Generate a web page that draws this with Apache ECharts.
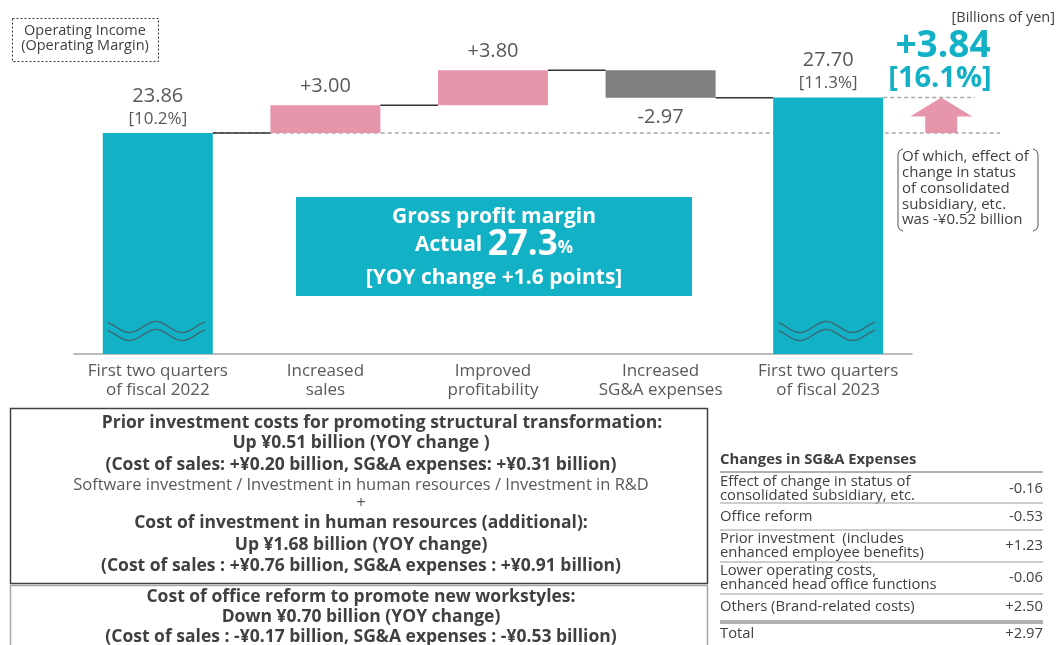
<!DOCTYPE html>
<html><head><meta charset="utf-8">
<script src="https://cdn.jsdelivr.net/npm/echarts@6/dist/echarts.min.js"></script>
<style>html,body{margin:0;padding:0;background:#fff}#c{width:1058px;height:645px}</style>
</head><body><div id="c"></div>
<script>
// ---------- data ----------
const categories = ['First two quarters\nof fiscal 2022', 'Increased\nsales', 'Improved\nprofitability', 'Increased\nSG&A expenses', 'First two quarters\nof fiscal 2023'];
const values = [23.86, 3.00, 3.80, -2.97, 27.70];
const kinds = ['total', 'delta', 'delta', 'delta', 'total'];
const margins = ['10.2%', null, null, null, '11.3%'];
const changeValue = '+3.84';
const changeRate = '16.1%';
const unitLabel = '[Billions of yen]';
const legendLines = ['Operating Income', '(Operating Margin)'];
const noteLines = ['Of which, effect of', 'change in status', 'of consolidated', 'subsidiary, etc.', 'was -¥0.52 billion'];
const gpTitle = 'Gross profit margin';
const gpActual = '27.3';
const gpChange = '[YOY change +1.6 points]';
const box1Lines = [
  'Prior investment costs for promoting structural transformation:',
  'Up ¥0.51 billion (YOY change )',
  '(Cost of sales: +¥0.20 billion, SG&A expenses: +¥0.31 billion)',
  'Software investment / Investment in human resources / Investment in R&D',
  '+',
  'Cost of investment in human resources (additional):',
  'Up ¥1.68 billion (YOY change)',
  '(Cost of sales : +¥0.76 billion, SG&A expenses : +¥0.91 billion)'
];
const box2Lines = [
  'Cost of office reform to promote new workstyles:',
  'Down ¥0.70 billion (YOY change)',
  '(Cost of sales : -¥0.17 billion, SG&A expenses : -¥0.53 billion)'
];
const sgaTitle = 'Changes in SG&A Expenses';
const sgaLabels = [
  'Effect of change in status of\nconsolidated subsidiary, etc.',
  'Office reform',
  'Prior investment  (includes\nenhanced employee benefits)',
  'Lower operating costs,\nenhanced head office functions',
  'Others (Brand-related costs)'
];
const sgaValues = ['-0.16', '-0.53', '+1.23', '-0.06', '+2.50'];
const sgaTotalLabel = 'Total';
const sgaTotal = '+2.97';

// ---------- styles ----------
const TEAL = '#13b1c6', PINK = '#e795ab', GREY = '#7f7f7f', TXT = '#595959', DARK = '#404040';
const FF = '"Open Sans", "Noto Sans", sans-serif';

// ---------- waterfall computation ----------
const bases = [], heights = [], levels = [];
let run = 0;
values.forEach((v, i) => {
  if (kinds[i] === 'total') { bases.push(0); heights.push(v); run = v; }
  else { bases.push(v > 0 ? run : run + v); heights.push(Math.abs(v)); run += v; }
  levels.push(run);
});
const fmt = (v, i) => kinds[i] === 'total' ? v.toFixed(2) : (v > 0 ? '+' : '') + v.toFixed(2);

const BAR_W = 110;
const barData = heights.map((h, i) => ({
  value: h,
  itemStyle: { color: kinds[i] === 'total' ? TEAL : (values[i] > 0 ? PINK : GREY) },
  label: {
    show: true,
    position: values[i] < 0 ? 'bottom' : 'top',
    distance: kinds[i] === 'total' ? 3 : (values[i] < 0 ? 8 : 7),
    formatter: kinds[i] === 'total' ? '{v|' + fmt(values[i], i) + '}\n{p|[' + margins[i] + ']}' : '{v|' + fmt(values[i], i) + '}'
  }
}));

const chart = echarts.init(document.getElementById('c'));

const graphics = [];
// legend box
graphics.push({ type: 'rect', shape: { x: 12.5, y: 18.5, width: 146, height: 43 }, style: { fill: 'none', stroke: '#333', lineWidth: 1, lineDash: [2, 2] } });
legendLines.forEach((t, k) => graphics.push({ type: 'text', style: { x: 85, y: 31 + k * 15, text: t, fill: DARK, font: '14.5px ' + FF, align: 'center', verticalAlign: 'middle' } }));
// unit
graphics.push({ type: 'text', style: { x: 1055, y: 18, text: unitLabel, fill: DARK, font: '14.5px ' + FF, align: 'right', verticalAlign: 'middle' } });
// change
graphics.push({ type: 'text', style: { x: 943, y: 46, text: changeValue, fill: TEAL, font: 'bold 37px ' + FF, align: 'center', verticalAlign: 'middle' } });
graphics.push({ type: 'text', style: { x: 940, y: 79, text: '[' + changeRate + ']', fill: TEAL, font: 'bold 29px ' + FF, align: 'center', verticalAlign: 'middle' } });
// brackets note
graphics.push({ type: 'polyline', shape: { points: [[903, 149], [899.5, 150.5], [898, 154], [898, 226], [899.5, 229.5], [903, 231]] }, style: { fill: 'none', stroke: '#555', lineWidth: 1 } });
graphics.push({ type: 'polyline', shape: { points: [[1033, 149], [1036.5, 150.5], [1038, 154], [1038, 226], [1036.5, 229.5], [1033, 231]] }, style: { fill: 'none', stroke: '#555', lineWidth: 1 } });
noteLines.forEach((t, k) => graphics.push({ type: 'text', style: { x: 902, y: 157 + k * 15.8, text: t, fill: DARK, font: '15px ' + FF, align: 'left', verticalAlign: 'middle' } }));
// gross profit box
graphics.push({ type: 'rect', shape: { x: 296, y: 197, width: 396, height: 99 }, style: { fill: TEAL } });
graphics.push({ type: 'text', style: { x: 494, y: 217, text: gpTitle, fill: '#fff', font: 'bold 21px ' + FF, align: 'center', verticalAlign: 'middle' } });
graphics.push({ type: 'text', style: { x: 494, y: 245, text: '{a|Actual }{b|' + gpActual + '}{c|%}', fill: '#fff', align: 'center', verticalAlign: 'middle',
  rich: { a: { fontSize: 21, fontWeight: 'bold', fontFamily: FF, color: '#fff' }, b: { fontSize: 35, fontWeight: 'bold', fontFamily: FF, color: '#fff' }, c: { fontSize: 17, fontWeight: 'bold', fontFamily: FF, color: '#fff', padding: [6, 0, 0, 0] } } } });
graphics.push({ type: 'text', style: { x: 494, y: 278, text: gpChange, fill: '#fff', font: 'bold 21px ' + FF, align: 'center', verticalAlign: 'middle' } });
// left notes boxes
graphics.push({ type: 'rect', shape: { x: 10.5, y: 408.5, width: 697, height: 175 }, style: { fill: 'none', stroke: '#404040', lineWidth: 1.5 } });
graphics.push({ type: 'rect', shape: { x: 10.5, y: 585.5, width: 697, height: 80 }, style: { fill: 'none', stroke: '#a6a6a6', lineWidth: 1.5 } });
const box1Y = [423, 443, 465, 485, 503, 523, 545, 566];
box1Lines.forEach((t, k) => {
  const plain = (k === 3 || k === 4);
  graphics.push({ type: 'text', style: { x: k === 0 ? 382 : 361, y: box1Y[k], text: t, fill: plain ? TXT : DARK, font: (plain ? '16.5px ' : 'bold 17.5px ') + FF, align: 'center', verticalAlign: 'middle' } });
});
const box2Y = [597, 617, 637];
box2Lines.forEach((t, k) => graphics.push({ type: 'text', style: { x: 361, y: box2Y[k], text: t, fill: DARK, font: 'bold 17.5px ' + FF, align: 'center', verticalAlign: 'middle' } }));
// SG&A table
const TX0 = 720, TX1 = 1043;
graphics.push({ type: 'text', style: { x: TX0, y: 460, text: sgaTitle, fill: DARK, font: 'bold 14.8px ' + FF, align: 'left', verticalAlign: 'middle' } });
graphics.push({ type: 'line', shape: { x1: TX0, y1: 472, x2: TX1, y2: 472 }, style: { stroke: '#b0b0b0', lineWidth: 2 } });
const rowY = [489, 517, 546, 578, 607];
const sepY = [503, 530, 562, 594];
sgaLabels.forEach((t, k) => {
  graphics.push({ type: 'text', style: { x: TX0, y: rowY[k], text: t, fill: DARK, font: '14.8px ' + FF, lineHeight: 14.5, align: 'left', verticalAlign: 'middle' } });
  graphics.push({ type: 'text', style: { x: TX1, y: rowY[k], text: sgaValues[k], fill: DARK, font: '14.8px ' + FF, align: 'right', verticalAlign: 'middle' } });
});
sepY.forEach(y => graphics.push({ type: 'line', shape: { x1: TX0, y1: y, x2: TX1, y2: y }, style: { stroke: '#bdbdbd', lineWidth: 1.5 } }));
graphics.push({ type: 'line', shape: { x1: TX0, y1: 622, x2: TX1, y2: 622 }, style: { stroke: '#b0b0b0', lineWidth: 4 } });
graphics.push({ type: 'text', style: { x: TX0, y: 634, text: sgaTotalLabel, fill: DARK, font: '14.8px ' + FF, align: 'left', verticalAlign: 'middle' } });
graphics.push({ type: 'text', style: { x: TX1, y: 634, text: sgaTotal, fill: DARK, font: '14.8px ' + FF, align: 'right', verticalAlign: 'middle' } });

const last = values.length - 1;
chart.setOption({
  animation: false,
  textStyle: { fontFamily: FF },
  grid: { left: 74, right: 146, top: 30, bottom: 291 },
  xAxis: {
    type: 'category', data: categories,
    axisLine: { lineStyle: { color: '#a6a6a6', width: 1.5 } },
    axisTick: { show: false },
    axisLabel: { interval: 0, color: TXT, fontSize: 17, lineHeight: 19, margin: 8, fontFamily: FF }
  },
  yAxis: { type: 'value', min: 0, max: 35, show: false, splitLine: { show: false } },
  series: [
    { type: 'bar', stack: 'w', barWidth: BAR_W, data: bases, itemStyle: { color: 'transparent' }, silent: true, z: 2 },
    { type: 'bar', stack: 'w', barWidth: BAR_W, data: barData, z: 2,
      label: { color: TXT, rich: { v: { fontSize: 20, lineHeight: 24, color: TXT, fontFamily: FF }, p: { fontSize: 17, lineHeight: 22, color: TXT, fontFamily: FF } } } },
    // dashed reference lines
    { type: 'custom', z: 1, silent: true, data: [[0, 0]],
      renderItem: (params, api) => {
        const a = api.coord([0, levels[0]]);
        const b = api.coord([last, levels[last]]);
        return { type: 'group', children: [
          { type: 'line', shape: { x1: a[0] + BAR_W / 2, y1: a[1], x2: 1000, y2: a[1] }, style: { stroke: '#a8a8a8', lineWidth: 1.5, lineDash: [4, 3] } },
          { type: 'line', shape: { x1: b[0] + BAR_W / 2, y1: b[1], x2: 975, y2: b[1] }, style: { stroke: '#a8a8a8', lineWidth: 1.5, lineDash: [4, 3] } }
        ] };
      } },
    // connectors, arrow, wave breaks
    { type: 'custom', z: 4, silent: true, data: [[0, 0]],
      renderItem: (params, api) => {
        const ch = [];
        for (let i = 0; i < last; i++) {
          const a = api.coord([i, levels[i]]), b = api.coord([i + 1, levels[i]]);
          ch.push({ type: 'line', shape: { x1: a[0] + BAR_W / 2, y1: a[1], x2: b[0] - BAR_W / 2, y2: b[1] }, style: { stroke: '#333', lineWidth: 1.5 } });
        }
        // arrow
        const top = api.coord([last, levels[last]]), bot = api.coord([last, levels[0]]);
        const cx = top[0] + 113;
        ch.push({ type: 'polygon', shape: { points: [[cx, top[1]], [cx + 31, top[1] + 19], [cx + 16, top[1] + 19], [cx + 16, bot[1]], [cx - 16, bot[1]], [cx - 16, top[1] + 19], [cx - 31, top[1] + 19]] }, style: { fill: PINK } });
        // wave breaks on total bars
        kinds.forEach((k, i) => {
          if (k !== 'total') return;
          const base = api.coord([i, 0]);
          [27, 19].forEach(off => {
            const pts = [];
            for (let dx = -50; dx <= 47; dx += 1) {
              pts.push([base[0] + dx, base[1] - off - 5.5 * Math.cos(2 * Math.PI * (dx + 2) / 53)]);
            }
            ch.push({ type: 'polyline', shape: { points: pts }, style: { fill: 'none', stroke: '#3c6870', lineWidth: 1.4 } });
          });
        });
        return { type: 'group', children: ch };
      } }
  ],
  graphic: graphics
});
</script></body></html>
